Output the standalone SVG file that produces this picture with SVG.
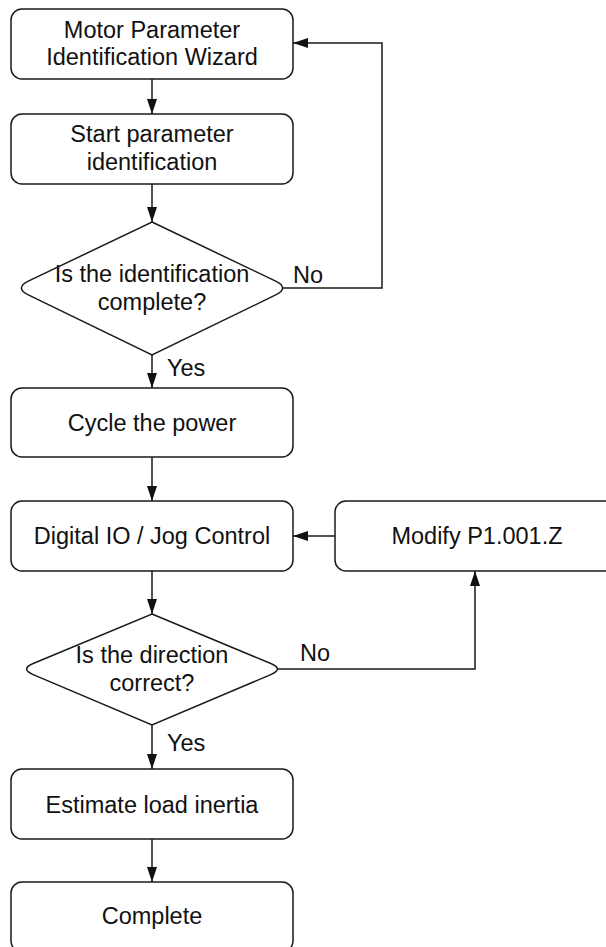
<svg xmlns="http://www.w3.org/2000/svg" width="606" height="947" viewBox="0 0 606 947">
<defs>
<style>
.box{fill:#fff;stroke:#1a1a1a;stroke-width:1.5}
.t{font-family:"Liberation Sans",Arial,sans-serif;font-size:23.5px;fill:#111;text-anchor:middle}
.l{font-family:"Liberation Sans",Arial,sans-serif;font-size:23.5px;fill:#111}
.c{fill:none;stroke:#1a1a1a;stroke-width:1.5}
</style>
<marker id="ah" viewBox="0 0 15 10" refX="15" refY="5" markerWidth="15" markerHeight="10" markerUnits="userSpaceOnUse" orient="auto">
<path d="M0,0 L15,5 L0,10 Z" fill="#111"/>
</marker>
</defs>
<rect width="606" height="947" fill="#fff"/>
<g id="connectors">
<path class="c" d="M152,79 V114" marker-end="url(#ah)"/>
<path class="c" d="M152,184 V222" marker-end="url(#ah)"/>
<path class="c" d="M152,355 V388" marker-end="url(#ah)"/>
<path class="c" d="M282,288 H382 V43 H293" marker-end="url(#ah)"/>
<path class="c" d="M152,457 V501" marker-end="url(#ah)"/>
<path class="c" d="M152,571 V614" marker-end="url(#ah)"/>
<path class="c" d="M335,536 H293" marker-end="url(#ah)"/>
<path class="c" d="M277,669 H475 V571" marker-end="url(#ah)"/>
<path class="c" d="M152,725 V769" marker-end="url(#ah)"/>
<path class="c" d="M152,839 V882" marker-end="url(#ah)"/>
<text class="l" x="293" y="283">No</text>
<text class="l" x="167" y="376">Yes</text>
<text class="l" x="300" y="661">No</text>
<text class="l" x="167" y="751">Yes</text>
</g>
<g id="n1">
<rect class="box" x="11" y="9" width="282" height="70" rx="11"/>
<text class="t" x="152" y="38">Motor Parameter</text>
<text class="t" x="152" y="65">Identification Wizard</text>
</g>
<g id="n2">
<rect class="box" x="11" y="114" width="282" height="70" rx="11"/>
<text class="t" x="152" y="142">Start parameter</text>
<text class="t" x="152" y="170">identification</text>
</g>
<g id="d1">
<path class="box" d="M152,222 L276.2,281.4 Q289,288 276.2,294.7 L152,355 L27.8,294.7 Q15,288 27.8,281.4 Z"/>
<text class="t" x="152" y="282">Is the identification</text>
<text class="t" x="152" y="310">complete?</text>
</g>
<g id="n3">
<rect class="box" x="11" y="388" width="282" height="69" rx="11"/>
<text class="t" x="152" y="431">Cycle the power</text>
</g>
<g id="n4">
<rect class="box" x="11" y="501" width="282" height="70" rx="11"/>
<text class="t" x="152" y="544">Digital IO / Jog Control</text>
</g>
<g id="n5">
<rect class="box" x="335" y="501" width="284" height="70" rx="11"/>
<text class="t" x="477" y="544">Modify P1.001.Z</text>
</g>
<g id="d2">
<path class="box" d="M152,614 L270.8,663.5 Q284,669 270.8,674.6 L152,725 L33.2,674.6 Q20,669 33.2,663.5 Z"/>
<text class="t" x="152" y="663">Is the direction</text>
<text class="t" x="152" y="691">correct?</text>
</g>
<g id="n6">
<rect class="box" x="11" y="769" width="282" height="70" rx="11"/>
<text class="t" x="152" y="813">Estimate load inertia</text>
</g>
<g id="n7">
<rect class="box" x="11" y="882" width="282" height="70" rx="11"/>
<text class="t" x="152" y="924">Complete</text>
</g>
</svg>
